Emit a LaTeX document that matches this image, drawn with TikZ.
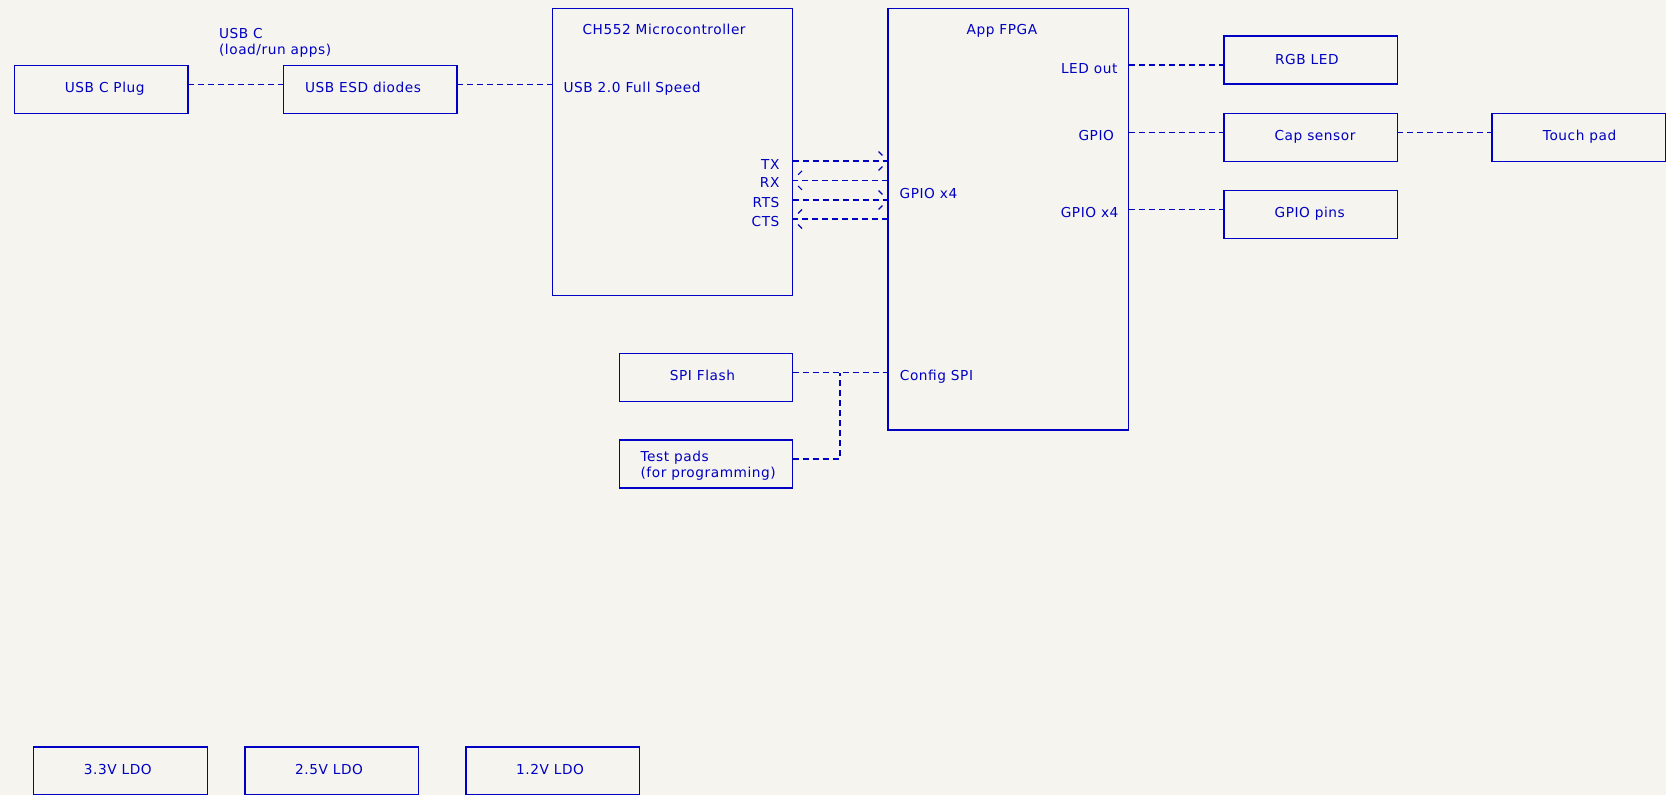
\documentclass[tikz,border=0pt]{standalone}
\usepackage{fontspec}
\setmainfont{DejaVu Sans}[LetterSpace=4]
\definecolor{kblue}{RGB}{0,0,194}
\definecolor{kbg}{RGB}{245,244,239}
\begin{document}
\begin{tikzpicture}[x=1pt,y=-1pt, line width=1.2pt,
  box/.style={draw=kblue, minimum width=173.4pt, minimum height=48pt, anchor=north west, inner sep=0pt, outer sep=0pt},
  bigbox/.style={draw=kblue, anchor=north west, inner sep=0pt, outer sep=0pt},
  lbl/.style={anchor=base west, inner sep=0pt, text=kblue, font=\fontsize{13.7}{16}\selectfont},
  lblr/.style={lbl, anchor=base east},
  wire/.style={draw=kblue, line width=1.1pt, dash pattern=on 6pt off 4pt},
  tipR/.pic={\draw[kblue, line width=1.1pt, dash pattern=on 5.5pt off 20pt] (-9.5,-9.5) -- (0,0) (-9.5,9.5) -- (0,0);},
  tipL/.pic={\draw[kblue, line width=1.1pt, dash pattern=on 5.5pt off 20pt] (9.5,-9.5) -- (0,0) (9.5,9.5) -- (0,0);}]
\fill[kbg] (0,0) rectangle (1666,795);
\useasboundingbox (0,0) rectangle (1666,795);

% boxes
\node[box] (plug) at (14.5,65.5) {};
\node[box] (esd) at (283.5,65.5) {};
\node[bigbox, minimum width=240pt, minimum height=287pt] (mcu) at (552.5,8.5) {};
\node[bigbox, minimum width=240.5pt, minimum height=421.5pt] (fpga) at (888,8.5) {};
\node[box] (rgb) at (1224,36) {};
\node[box] (cap) at (1224,113.3) {};
\node[box] (touch) at (1492,113.3) {};
\node[box] (pins) at (1224,190.3) {};
\node[box] (flash) at (619.3,353.7) {};
\node[box] (pads) at (619.3,440) {};
\node[box] (ldoa) at (33.7,747) {};
\node[box] (ldob) at (245,747) {};
\node[box] (ldoc) at (466,747) {};

% labels
\node[lbl] (tusbc) at (218.5,38.5) {USB C};
\node[lbl] (tload) at (218.5,54.5) {(load/run apps)};
\node[lbl] (tplug) at (64.3,92.5) {USB C Plug};
\node[lbl] (tesd) at (304.5,92.5) {USB ESD diodes};
\node[lbl] (tmcu) at (582,34.8) {CH552 Microcontroller};
\node[lbl] (tusb2) at (563,92.3) {USB 2.0 Full Speed};
\node[lblr] (ttx) at (780,169) {TX};
\node[lblr] (trx) at (780,187.7) {RX};
\node[lblr] (trts) at (780,207) {RTS};
\node[lblr] (tcts) at (780,226.3) {CTS};
\node[lbl] (tgpio4a) at (899,198) {GPIO x4};
\node[lbl] (tfpga) at (966,34.8) {App FPGA};
\node[lblr] (tledout) at (1118,73) {LED out};
\node[lblr] (tgpio) at (1114.5,140) {GPIO};
\node[lblr] (tgpio4b) at (1119,217) {GPIO x4};
\node[lbl] (trgb) at (1274.5,64) {RGB LED};
\node[lbl] (tcap) at (1274,140.3) {Cap sensor};
\node[lbl] (ttouch) at (1542.3,140.3) {Touch pad};
\node[lbl] (tpins) at (1274,217.3) {GPIO pins};
\node[lbl] (tflash) at (669.3,380.7) {SPI Flash};
\node[lbl] (tcfg) at (899.3,380.7) {Config SPI};
\node[lbl] (tpads) at (640,461) {Test pads};
\node[lbl] (tprog) at (640,477.3) {(for programming)};
\node[lbl] (tldoa) at (83.3,774.3) {3.3V LDO};
\node[lbl] (tldob) at (294.6,774.3) {2.5V LDO};
\node[lbl] (tldoc) at (515.6,774.3) {1.2V LDO};

% connector levels
\coordinate (yusb) at (0,84.3);
\coordinate (ytx) at (0,161);
\coordinate (yrx) at (0,180.3);
\coordinate (yrts) at (0,200);
\coordinate (ycts) at (0,219);
\coordinate (yled) at (0,65);
\coordinate (ygpio) at (0,132.7);
\coordinate (ygpio4) at (0,209.3);
\coordinate (yspi) at (0,372.7);
\coordinate (ypad) at (0,459);
\coordinate (jn) at (840,372.7);

% connectors
\draw[wire] (plug.east|-yusb) -- (esd.west|-yusb);
\draw[wire] (esd.east|-yusb) -- (mcu.west|-yusb);
\draw[wire] (mcu.east|-ytx) -- (fpga.west|-ytx);
\draw[wire] (fpga.west|-yrx) -- (mcu.east|-yrx);
\draw[wire] (mcu.east|-yrts) -- (fpga.west|-yrts);
\draw[wire] (fpga.west|-ycts) -- (mcu.east|-ycts);
\pic at (fpga.west|-ytx) {tipR};
\pic at (mcu.east|-yrx) {tipL};
\pic at (fpga.west|-yrts) {tipR};
\pic at (mcu.east|-ycts) {tipL};
\draw[wire] (fpga.east|-yled) -- (rgb.west|-yled);
\draw[wire] (fpga.east|-ygpio) -- (cap.west|-ygpio);
\draw[wire] (cap.east|-ygpio) -- (touch.west|-ygpio);
\draw[wire] (fpga.east|-ygpio4) -- (pins.west|-ygpio4);
\draw[wire] (flash.east|-yspi) -- (fpga.west|-yspi);
\draw[wire] (pads.east|-ypad) -| (jn);
\end{tikzpicture}
\end{document}
